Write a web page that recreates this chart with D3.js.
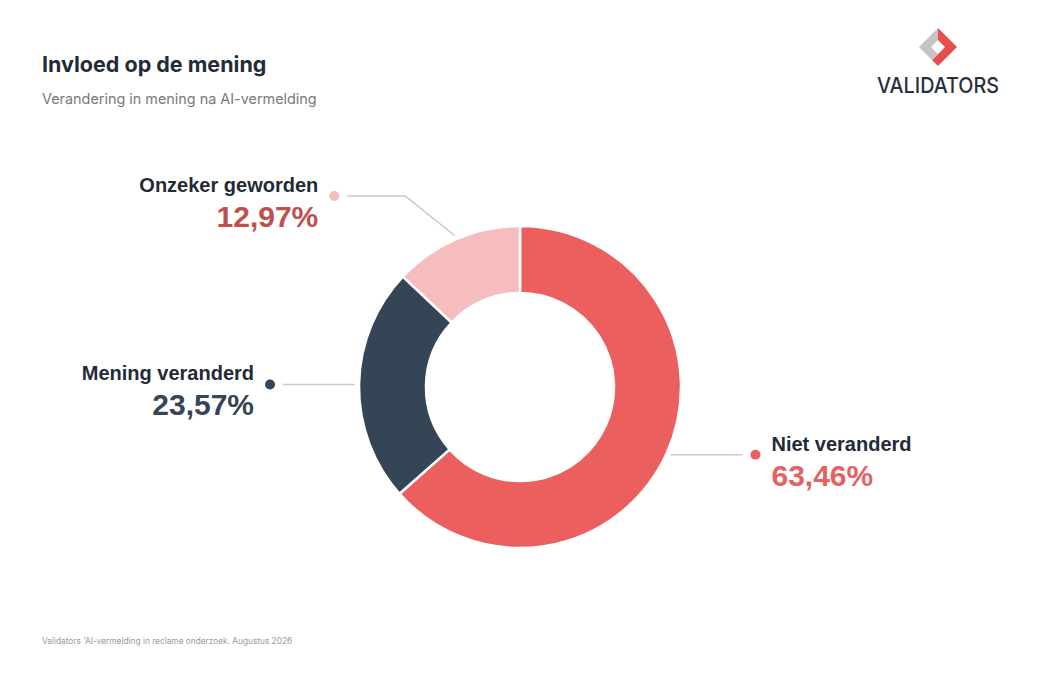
<!DOCTYPE html>
<html>
<head>
<meta charset="utf-8">
<script src="https://cdn.jsdelivr.net/npm/d3@7"></script>
<style>
  body { margin: 0; background: #fff; }
  svg { display: block; }
</style>
</head>
<body>
<script>
// data
var categories = ["Niet veranderd", "Mening veranderd", "Onzeker geworden"];
var values = [63.46, 23.57, 12.97];
var sliceColors = ["#ec5f5f", "#344555", "#f5bdbd"];
var valueColors = ["#e36262", "#344555", "#c0504f"];

var width = 1040, height = 686;
var cx = 520, cy = 387;
var outerR = 161, innerR = 94;

var svg = d3.select("body").append("svg")
    .attr("width", width)
    .attr("height", height);

// title
svg.append("text")
    .attr("x", 42).attr("y", 72)
    .attr("font-family", "Inter, sans-serif")
    .attr("font-weight", 700)
    .attr("font-size", "21.5px")
    .attr("fill", "#1f2d3a")
    .text("Invloed op de mening");

svg.append("text")
    .attr("x", 42).attr("y", 104)
    .attr("font-family", "Inter, sans-serif")
    .attr("font-size", "14.4px")
    .attr("fill", "#7a7a7a")
    .text("Verandering in mening na AI-vermelding");

// footer
svg.append("text")
    .attr("x", 42).attr("y", 644)
    .attr("font-family", "Inter, sans-serif")
    .attr("font-size", "8.3px")
    .attr("fill", "#9a9a9a")
    .text("Validators 'AI-vermelding in reclame onderzoek. Augustus 2026");

// logo
var logo = svg.append("g").attr("transform", "translate(938,47)");
logo.append("path").attr("d", "M0,-19 L19,0 L0,19 L-6,13 L7,0 L0,-7 Z").attr("fill", "#e84e4e");
logo.append("path").attr("d", "M0,-19 L-19,0 L-6,13 L0,7 L-7,0 L0,-7 Z").attr("fill", "#c4c4c4");
logo.append("text")
    .attr("x", 0).attr("y", 46)
    .attr("text-anchor", "middle")
    .attr("font-family", "Inter, sans-serif")
    .attr("font-weight", 500)
    .attr("font-size", "22px")
    .attr("textLength", 122)
    .attr("lengthAdjust", "spacingAndGlyphs")
    .attr("fill", "#27313b")
    .text("VALIDATORS");

// pie
var data = categories.map(function (c, i) { return { name: c, value: values[i], i: i }; });
var pie = d3.pie().value(function (d) { return d.value; }).sort(null);
var arc = d3.arc().innerRadius(innerR).outerRadius(outerR);
var arcs = pie(data);

var g = svg.append("g").attr("transform", "translate(" + cx + "," + cy + ")");

g.selectAll("path.slice").data(arcs).enter()
    .append("path")
    .attr("class", "slice")
    .attr("d", arc)
    .attr("fill", function (d) { return sliceColors[d.data.i]; })
    .attr("stroke", "#fff")
    .attr("stroke-width", 2.5);

// labels with connectors
arcs.forEach(function (d) {
    var mid = (d.startAngle + d.endAngle) / 2;
    var side = Math.sin(mid) >= 0 ? 1 : -1;
    var sx = Math.sin(mid) * (outerR + 4);
    var sy = -Math.cos(mid) * (outerR + 4);
    var ex = sx, ey = sy, hLen = 72;
    if (Math.abs(Math.cos(mid)) > 0.8) {
        // near top/bottom: push label out
        ey = -Math.cos(mid) * (outerR + 47);
        ex = sx + side * Math.abs(sy - ey) * 1.25;
        hLen = 58;
    }
    var lx = ex + side * hLen;
    var dotX = lx + side * 13;

    g.append("polyline")
        .attr("points", [[sx, sy], [ex, ey], [lx, ey]].map(function (p) { return p.join(","); }).join(" "))
        .attr("fill", "none")
        .attr("stroke", "#c9c9c9")
        .attr("stroke-width", 1.5);

    g.append("circle")
        .attr("cx", dotX).attr("cy", ey)
        .attr("r", 5)
        .attr("fill", sliceColors[d.data.i]);

    var tx = dotX + side * 16;
    var anchor = side > 0 ? "start" : "end";
    g.append("text")
        .attr("x", tx).attr("y", ey - 4)
        .attr("text-anchor", anchor)
        .attr("font-family", "'Liberation Sans', Arial, sans-serif")
        .attr("font-weight", 700)
        .attr("font-size", "20px")
        .attr("fill", "#1f2b38")
        .text(d.data.name);
    g.append("text")
        .attr("x", tx).attr("y", ey + 31)
        .attr("text-anchor", anchor)
        .attr("font-family", "'Liberation Sans', Arial, sans-serif")
        .attr("font-weight", 700)
        .attr("font-size", "30px")
        .attr("fill", valueColors[d.data.i])
        .text(d3.format(".2f")(d.data.value).replace(".", ",") + "%");
});
</script>
</body>
</html>
